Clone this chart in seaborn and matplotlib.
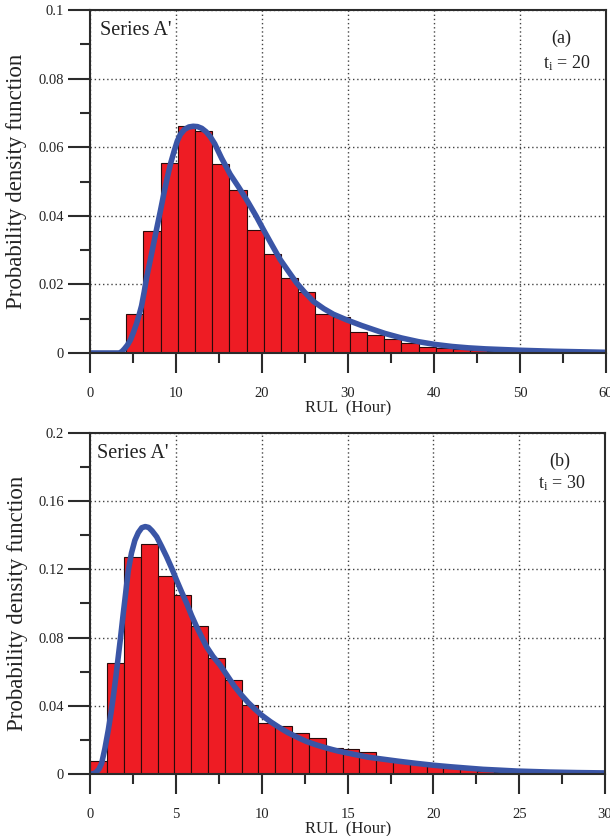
import matplotlib
matplotlib.use('Agg')
import matplotlib.pyplot as plt
import seaborn as sns
import numpy as np
import pandas as pd
from matplotlib.ticker import MultipleLocator, FuncFormatter

# ---------------- data ----------------
# panel (a): t_i = 20
a_bin_start = 4.2
a_bin_width = 2.0
a_heights = [0.0113, 0.0355, 0.0555, 0.0662, 0.0647, 0.0552, 0.0474, 0.0360,
             0.0290, 0.0220, 0.0178, 0.0115, 0.0104, 0.0062, 0.0052, 0.0040,
             0.0028, 0.0018, 0.0014, 0.0011, 0.0008, 0.0005, 0.0003]
a_curve_x = [0, 3.4, 3.7, 4.0, 4.35, 4.7, 5.05, 5.4, 5.7, 6.0, 6.3, 6.6, 7.0,
             7.4, 7.8, 8.2, 8.6, 9.0, 9.4, 9.8, 10.15, 10.5, 11.0, 11.5, 12.0,
             12.5, 13.0, 13.5, 14.0, 14.5, 15.3, 16.3, 17.3, 18.3, 19.3, 20.2,
             21.2, 22.1, 23.1, 24.0, 25.0, 26.0, 27.2, 28.3, 29.8, 31.6, 33.0,
             34.3, 36.2, 38.2, 40.1, 42.1, 44.0, 46.0, 48.0, 50.0, 54.0, 60.0]
a_curve_y = [0, 0, 0.0004, 0.0012, 0.0023, 0.0038, 0.0060, 0.0085, 0.0110,
             0.0138, 0.0178, 0.0222, 0.0270, 0.0319, 0.0368, 0.0416, 0.0466,
             0.0513, 0.0555, 0.0590, 0.0618, 0.0637, 0.0652, 0.0659, 0.0661,
             0.0660, 0.0655, 0.0645, 0.0630, 0.0610, 0.0568, 0.0521, 0.0483,
             0.0443, 0.0400, 0.0358, 0.0313, 0.0273, 0.0237, 0.0205, 0.0176,
             0.0150, 0.0129, 0.0113, 0.0097, 0.0080, 0.0068, 0.0057, 0.0044,
             0.0033, 0.0025, 0.0019, 0.0015, 0.0012, 0.0010, 0.0008, 0.0005,
             0.0002]

# panel (b): t_i = 30
b_bin_start = 0.0
b_bin_width = 0.98
b_heights = [0.0075, 0.0650, 0.1270, 0.1350, 0.1160, 0.1050, 0.0870, 0.0680,
             0.0550, 0.0405, 0.0302, 0.0280, 0.0243, 0.0214, 0.0152, 0.0146,
             0.0129, 0.0088, 0.0078, 0.0068, 0.0048, 0.0038, 0.0030, 0.0022,
             0.0016, 0.0011, 0.0008]
b_curve_x = [0, 0.3, 0.5, 0.66, 0.85, 1.05, 1.2, 1.34, 1.49, 1.63, 1.78, 1.92,
             2.07, 2.21, 2.4, 2.6, 2.8, 3.0, 3.2, 3.4, 3.6, 3.87, 4.15, 4.45,
             4.75, 5.03, 5.32, 5.62, 5.9, 6.2, 6.5, 6.78, 7.15, 7.56, 8.0, 8.4,
             8.8, 9.2, 9.6, 10.0, 10.5, 11.0, 11.5, 12.1, 12.6, 13.2, 13.8, 14.4,
             15.3, 16.2, 17.1, 18.0, 19.0, 20.0, 21.0, 22.0, 22.9, 23.9, 24.85,
             26.8, 28.4, 30.0]
b_curve_y = [0, 0.0008, 0.0030, 0.0064, 0.0150, 0.0260, 0.0355, 0.0454,
             0.0570, 0.0688, 0.0815, 0.0940, 0.1068, 0.1190, 0.1295, 0.1370,
             0.1415, 0.1443, 0.1450, 0.1445, 0.1425, 0.1390, 0.1335, 0.1273,
             0.1205, 0.1136, 0.1068, 0.1000, 0.0930, 0.0863, 0.0802, 0.0746,
             0.0690, 0.0640, 0.0575, 0.0515, 0.0465, 0.0420, 0.0381, 0.0345,
             0.0308, 0.0275, 0.0245, 0.0215, 0.0192, 0.0171, 0.0153, 0.0137,
             0.0118, 0.0100, 0.0088, 0.0076, 0.0064, 0.0053, 0.0044, 0.0036,
             0.0029, 0.0024, 0.0019, 0.0013, 0.0010, 0.0008]

panels = [
    dict(start=a_bin_start, width=a_bin_width, heights=a_heights,
         cx=a_curve_x, cy=a_curve_y, xlim=(0, 60), ylim=(0, 0.1),
         xmaj=10, xmin=5, ymaj=0.02, ymin=0.01, tag="(a)", ti="20",
         tag_pos=(0.914, 0.918), ti_pos=(0.924, 0.845), ser_pos=(0.019, 0.939)),
    dict(start=b_bin_start, width=b_bin_width, heights=b_heights,
         cx=b_curve_x, cy=b_curve_y, xlim=(0, 30), ylim=(0, 0.2),
         xmaj=5, xmin=2.5, ymaj=0.04, ymin=0.02, tag="(b)", ti="30",
         tag_pos=(0.913, 0.915), ti_pos=(0.916, 0.853), ser_pos=(0.013, 0.939)),
]

# ---------------- style ----------------
sns.set_theme(style="ticks")
plt.rcParams['font.family'] = ['Liberation Serif', 'DejaVu Serif']
plt.rcParams['mathtext.fontset'] = 'custom'
plt.rcParams['mathtext.rm'] = 'Liberation Serif'
plt.rcParams['mathtext.it'] = 'Liberation Serif:italic'

BAR = '#ee1c24'
EDGE = '#2a0a0a'
LINE = '#3a55a6'
SPINE = '#2b2b2b'
TXT = '#222222'

fig = plt.figure(figsize=(6.10, 8.36), dpi=100)
ax1 = fig.add_axes([90 / 610, (836 - 353) / 836, 516 / 610, 343 / 836])
ax2 = fig.add_axes([90.3 / 610, (836 - 774.3) / 836, 514.7 / 610, 341.7 / 836])

fmt = FuncFormatter(lambda v, p: ("%g" % round(v, 4)))

for ax, P in zip([ax1, ax2], panels):
    n = len(P['heights'])
    edges = [P['start'] + P['width'] * i for i in range(n + 1)]
    df = pd.DataFrame({
        'center': [P['start'] + P['width'] * (i + 0.5) for i in range(n)],
        'h': P['heights'],
    })
    sns.histplot(data=df, x='center', weights='h', bins=edges, stat='count',
                 color=BAR, edgecolor=EDGE, linewidth=0.8, alpha=1, ax=ax)
    sns.lineplot(x=P['cx'], y=P['cy'], ax=ax, color=LINE, linewidth=4,
                 solid_capstyle='round', solid_joinstyle='round')

    ax.set_xlim(*P['xlim'])
    ax.set_ylim(*P['ylim'])
    ax.xaxis.set_major_locator(MultipleLocator(P['xmaj']))
    ax.xaxis.set_minor_locator(MultipleLocator(P['xmin']))
    ax.yaxis.set_major_locator(MultipleLocator(P['ymaj']))
    ax.yaxis.set_minor_locator(MultipleLocator(P['ymin']))
    ax.yaxis.set_major_formatter(fmt)
    ax.xaxis.set_major_formatter(fmt)

    ax.grid(True, which='major', linestyle=(0, (1, 2)), color='#444444', linewidth=1)
    ax.set_axisbelow(True)

    for s in ax.spines.values():
        s.set_visible(True)
        s.set_linewidth(1.5)
        s.set_color(SPINE)

    ax.tick_params(axis='x', which='major', direction='out', length=14.5, width=1.5,
                   color=SPINE, labelsize=10.5, pad=10, labelcolor=TXT,
                   bottom=True, top=False)
    ax.tick_params(axis='y', which='major', direction='out', length=16, width=1.5,
                   color=SPINE, labelsize=10.5, pad=3, labelcolor=TXT,
                   left=True, right=False)
    ax.tick_params(which='minor', direction='out', length=7, width=1.5,
                   color=SPINE, bottom=True, left=True, top=False, right=False)

    ax.set_xlabel("RUL  (Hour)", fontsize=12, labelpad=0, color=TXT)
    ax.set_ylabel("Probability density function", fontsize=16.5, color=TXT)
    ax.yaxis.set_label_coords(-0.122, 0.5)

    ax.text(P['ser_pos'][0], P['ser_pos'][1], "Series A'", transform=ax.transAxes,
            fontsize=14.5, ha='left', va='center', color=TXT)
    ax.text(P['tag_pos'][0], P['tag_pos'][1], P['tag'], transform=ax.transAxes,
            fontsize=13, ha='center', va='center', color=TXT)
    ax.text(P['ti_pos'][0], P['ti_pos'][1], r"t$_{\mathrm{i}}$ = " + P['ti'],
            transform=ax.transAxes, fontsize=13, ha='center', va='center',
            color=TXT)

fig.savefig("out.png", dpi=100)
